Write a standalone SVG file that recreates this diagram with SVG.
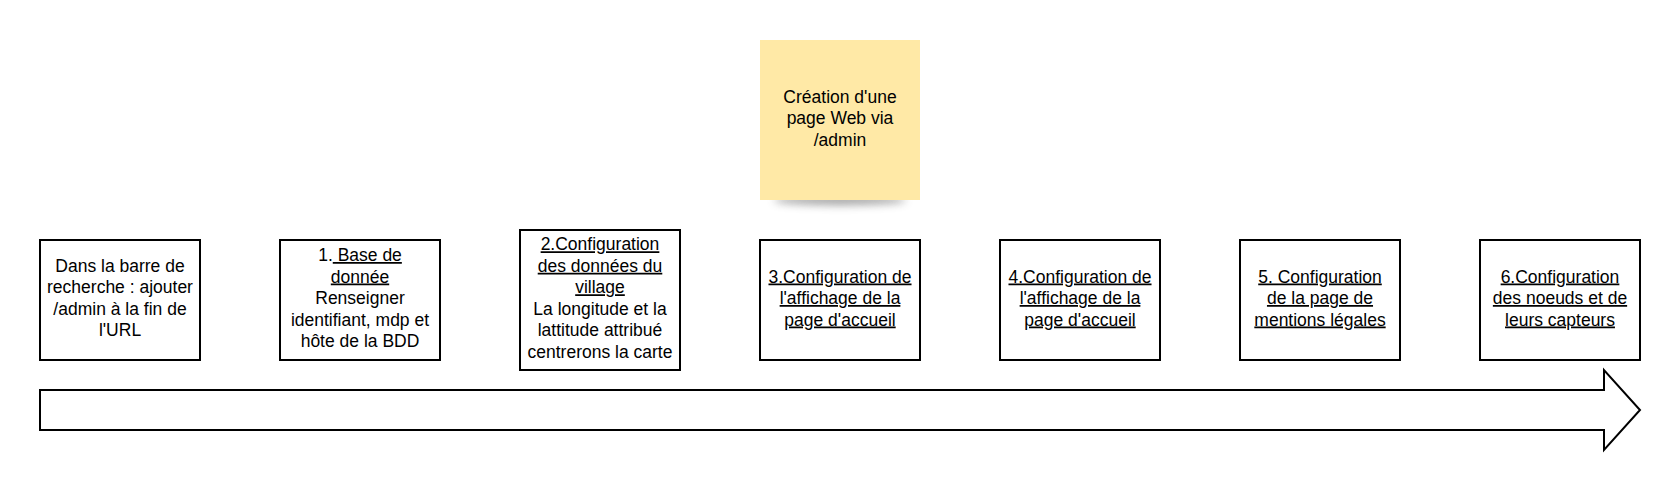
<svg xmlns="http://www.w3.org/2000/svg" width="1680" height="490" viewBox="0 0 1680 490">
  <defs>
    <style>
      .box { fill: #ffffff; stroke: #000000; stroke-width: 2; }
      .t { font-family: "Liberation Sans", Arial, sans-serif; font-size: 17.5px; fill: #000000; text-anchor: middle; }
      .u { text-decoration: underline; }
      .note { fill: #ffe9a6; }
      .arrow { fill: #ffffff; stroke: #000000; stroke-width: 2; stroke-linejoin: miter; }
    </style>
    <filter id="shadowBlur" x="-50%" y="-200%" width="200%" height="500%">
      <feGaussianBlur stdDeviation="4"/>
    </filter>
  </defs>
  <rect width="1680" height="490" fill="#ffffff"/>

  <g id="sticky-note">
    <ellipse cx="840" cy="200" rx="66" ry="5" fill="#555555" opacity="0.55" filter="url(#shadowBlur)"/>
    <rect class="note" x="760" y="40" width="160" height="160"/>
    <text class="t" x="840" y="102.5">Création d'une</text>
    <text class="t" x="840" y="124">page Web via</text>
    <text class="t" x="840" y="145.5">/admin</text>
  </g>

  <g id="step-0">
    <rect class="box" x="40" y="240" width="160" height="120"/>
    <text class="t" x="120" y="271.75">Dans la barre de</text>
    <text class="t" x="120" y="293.25">recherche : ajouter</text>
    <text class="t" x="120" y="314.75">/admin à la fin de</text>
    <text class="t" x="120" y="336.25">l'URL</text>
  </g>

  <g id="step-1">
    <rect class="box" x="280" y="240" width="160" height="120"/>
    <text class="t" x="360" y="261">1.<tspan class="u"> Base de</tspan></text>
    <text class="t u" x="360" y="282.5">donnée</text>
    <text class="t" x="360" y="304">Renseigner</text>
    <text class="t" x="360" y="325.5">identifiant, mdp et</text>
    <text class="t" x="360" y="347">hôte de la BDD</text>
  </g>

  <g id="step-2">
    <rect class="box" x="520" y="230" width="160" height="140"/>
    <text class="t u" x="600" y="250.25">2.Configuration</text>
    <text class="t u" x="600" y="271.75">des données du</text>
    <text class="t u" x="600" y="293.25">village</text>
    <text class="t" x="600" y="314.75">La longitude et la</text>
    <text class="t" x="600" y="336.25">lattitude attribué</text>
    <text class="t" x="600" y="357.75">centrerons la carte</text>
  </g>

  <g id="step-3">
    <rect class="box" x="760" y="240" width="160" height="120"/>
    <text class="t u" x="840" y="282.5">3.Configuration de</text>
    <text class="t u" x="840" y="304">l'affichage de la</text>
    <text class="t u" x="840" y="325.5">page d'accueil</text>
  </g>

  <g id="step-4">
    <rect class="box" x="1000" y="240" width="160" height="120"/>
    <text class="t u" x="1080" y="282.5">4.Configuration de</text>
    <text class="t u" x="1080" y="304">l'affichage de la</text>
    <text class="t u" x="1080" y="325.5">page d'accueil</text>
  </g>

  <g id="step-5">
    <rect class="box" x="1240" y="240" width="160" height="120"/>
    <text class="t u" x="1320" y="282.5">5. Configuration</text>
    <text class="t u" x="1320" y="304">de la page de</text>
    <text class="t u" x="1320" y="325.5">mentions légales</text>
  </g>

  <g id="step-6">
    <rect class="box" x="1480" y="240" width="160" height="120"/>
    <text class="t u" x="1560" y="282.5">6.Configuration</text>
    <text class="t u" x="1560" y="304">des noeuds et de</text>
    <text class="t u" x="1560" y="325.5">leurs capteurs</text>
  </g>

  <g id="connectors">
    <polygon id="timeline-arrow" class="arrow" points="40,390 1604,390 1604,370 1640,410 1604,450 1604,430 40,430"/>
  </g>
</svg>
